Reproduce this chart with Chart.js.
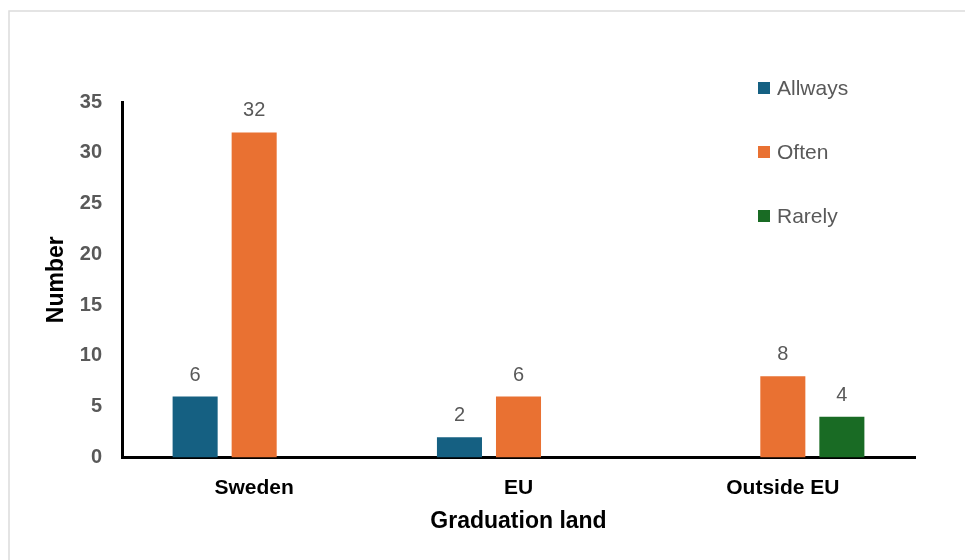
<!DOCTYPE html>
<html>
<head>
    <script src="https://cdn.jsdelivr.net/npm/chart.js@4.4.0/dist/chart.umd.min.js"></script>
    <style>
        body { margin: 0; background: #fff; }
    </style>
</head>
<body>
    <canvas id="myChart" width="965" height="560"></canvas>

    <script type="text/javascript">
        // answers per graduation country
        const countries = ['Sweden', 'EU', 'Outside EU'];
        const allways = [6, 2, null];
        const often = [32, 6, 8];
        const rarely = [null, null, 4];
        const yTicks = [0, 5, 10, 15, 20, 25, 30, 35];

        const FONT = "'Liberation Sans', Arial, sans-serif";
        const GREY = '#595959';

        // light frame along the top and left edge
        const framePlugin = {
            id: 'frame',
            beforeDraw(chart) {
                const ctx = chart.ctx;
                ctx.save();
                ctx.strokeStyle = '#dcdcdc';
                ctx.lineWidth = 1.5;
                ctx.beginPath();
                ctx.moveTo(chart.width, 11);
                ctx.lineTo(9, 11);
                ctx.lineTo(9, chart.height);
                ctx.stroke();
                ctx.restore();
            }
        };

        // numbers above each bar
        const valueLabels = {
            id: 'valueLabels',
            afterDatasetsDraw(chart) {
                const ctx = chart.ctx;
                ctx.save();
                ctx.font = '20px ' + FONT;
                ctx.fillStyle = GREY;
                ctx.textAlign = 'center';
                ctx.textBaseline = 'alphabetic';
                chart.data.datasets.forEach((ds, i) => {
                    chart.getDatasetMeta(i).data.forEach((bar, j) => {
                        const v = ds.data[j];
                        if (v === null || v === undefined) return;
                        ctx.fillText(String(v), bar.x, bar.y - 16);
                    });
                });
                ctx.restore();
            }
        };

        // legend stacked in the upper right corner
        const sideLegend = {
            id: 'sideLegend',
            afterDraw(chart) {
                const ctx = chart.ctx;
                ctx.save();
                ctx.font = '21px ' + FONT;
                ctx.textBaseline = 'middle';
                chart.data.datasets.forEach((ds, i) => {
                    const y = 88 + i * 64;
                    ctx.fillStyle = ds.backgroundColor;
                    ctx.fillRect(758, y - 6, 12, 12);
                    ctx.fillStyle = GREY;
                    ctx.fillText(ds.label, 777, y + 1);
                });
                ctx.restore();
            }
        };

        const data = {
            labels: countries,
            datasets: [
                { label: 'Allways', data: allways, backgroundColor: '#156082' },
                { label: 'Often', data: often, backgroundColor: '#E97132' },
                { label: 'Rarely', data: rarely, backgroundColor: '#196B24' }
            ]
        };

        const config = {
            type: 'bar',
            data: data,
            options: {
                responsive: false,
                animation: false,
                categoryPercentage: 0.67,
                barPercentage: 0.763,
                layout: {
                    padding: { top: 102, right: 50, bottom: 0, left: 0 }
                },
                plugins: {
                    legend: { display: false },
                    tooltip: { enabled: false }
                },
                scales: {
                    x: {
                        grid: { display: false, drawTicks: false },
                        border: { display: true, color: '#000', width: 3 },
                        ticks: {
                            color: '#000',
                            padding: 18,
                            font: { family: FONT, size: 21, weight: 'bold' }
                        },
                        title: {
                            display: true,
                            text: 'Graduation land',
                            color: '#000',
                            padding: { top: 0, bottom: 25 },
                            font: { family: FONT, size: 23, weight: 'bold' }
                        },
                        afterFit(scale) { scale.height = 102.5; }
                    },
                    y: {
                        min: 0,
                        max: 35,
                        grid: { display: false, drawTicks: false },
                        border: { display: true, color: '#000', width: 3 },
                        ticks: {
                            color: GREY,
                            padding: 20,
                            font: { family: FONT, size: 20, weight: 'bold' }
                        },
                        afterBuildTicks(axis) {
                            axis.ticks = yTicks.map(v => ({ value: v }));
                        },
                        title: {
                            display: true,
                            text: 'Number',
                            color: '#000',
                            padding: { top: 43, bottom: 0 },
                            font: { family: FONT, size: 23, weight: 'bold' }
                        },
                        afterFit(scale) { scale.width = 122; }
                    }
                }
            },
            plugins: [framePlugin, valueLabels, sideLegend]
        };

        const chart = new Chart(document.getElementById('myChart'), config);
    </script>
</body>
</html>
